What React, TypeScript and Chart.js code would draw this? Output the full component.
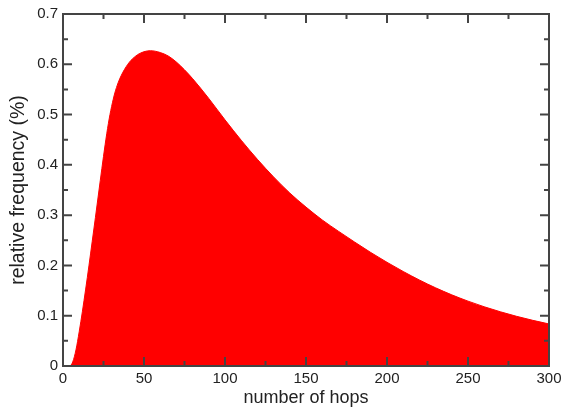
import React, { useEffect, useRef } from "react";
import { Chart, registerables } from "chart.js";

Chart.register(...registerables);

const hops = [0, 4, 6, 8, 10, 12, 14, 16, 18, 20, 22, 24, 26, 28, 30, 32, 34, 36, 38, 40, 42, 44, 46, 48, 50, 52, 54, 60, 65, 70, 75, 80, 90, 100, 110, 120, 130, 140, 150, 160, 170, 180, 190, 200, 210, 220, 230, 240, 250, 260, 270, 280, 290, 300];
const freq = [0, 0, 0.008, 0.032, 0.068, 0.109, 0.153, 0.199, 0.247, 0.295, 0.344, 0.393, 0.44, 0.482, 0.516, 0.543, 0.563, 0.578, 0.59, 0.6, 0.608, 0.614, 0.619, 0.6225, 0.625, 0.6265, 0.627, 0.6234, 0.6164, 0.6044, 0.589, 0.5715, 0.532, 0.4895, 0.449, 0.411, 0.376, 0.344, 0.316, 0.2905, 0.268, 0.2465, 0.2257, 0.2062, 0.188, 0.171, 0.1555, 0.1415, 0.129, 0.1178, 0.1078, 0.0988, 0.0908, 0.0836];

const xMajor = [0, 50, 100, 150, 200, 250, 300];
const xMinor = [25, 75, 125, 175, 225, 275];
const yMajor = [0, 0.1, 0.2, 0.3, 0.4, 0.5, 0.6, 0.7];
const yMinor = [0.05, 0.15, 0.25, 0.35, 0.45, 0.55, 0.65];

const frameColor = "#444444";

const framePlugin = {
  id: "frameTicks",
  afterDraw(chart: any) {
    const { ctx, chartArea } = chart;
    const { left, right, top, bottom } = chartArea;
    const xs = chart.scales.x;
    const ys = chart.scales.y;
    ctx.save();
    ctx.strokeStyle = frameColor;
    ctx.lineWidth = 2;
    ctx.beginPath();
    const tickX = (vals: number[], len: number) => {
      vals.forEach((v) => {
        const px = xs.getPixelForValue(v);
        ctx.moveTo(px, bottom);
        ctx.lineTo(px, bottom - len);
        ctx.moveTo(px, top);
        ctx.lineTo(px, top + len);
      });
    };
    const tickY = (vals: number[], len: number) => {
      vals.forEach((v) => {
        const py = ys.getPixelForValue(v);
        ctx.moveTo(left, py);
        ctx.lineTo(left + len, py);
        ctx.moveTo(right, py);
        ctx.lineTo(right - len, py);
      });
    };
    tickX(xMajor, 9);
    tickX(xMinor, 5);
    tickY(yMajor, 9);
    tickY(yMinor, 5);
    ctx.stroke();
    ctx.strokeRect(left, top, right - left, bottom - top);
    ctx.restore();
  },
};

export default function App() {
  const ref = useRef<HTMLCanvasElement | null>(null);
  useEffect(() => {
    if (!ref.current) return;
    const chart = new Chart(ref.current, {
      type: "line",
      data: {
        datasets: [
          {
            data: hops.map((h, i) => ({ x: h, y: freq[i] })),
            fill: "origin",
            backgroundColor: "#ff0000",
            borderColor: "#ff0000",
            borderWidth: 1,
            pointRadius: 0,
            cubicInterpolationMode: "monotone",
          },
        ],
      },
      options: {
        responsive: false,
        animation: false,
        devicePixelRatio: 1,
        layout: { padding: { left: 0, top: 13, right: 17, bottom: 0 } },
        plugins: { legend: { display: false }, tooltip: { enabled: false } },
        scales: {
          x: {
            type: "linear",
            min: 0,
            max: 300,
            grid: { display: false, drawTicks: false },
            border: { display: false },
            ticks: {
              stepSize: 50,
              padding: 4,
              color: "#222",
              font: { family: "'Liberation Sans', Arial, sans-serif", size: 15 },
              maxRotation: 0,
            },
            title: {
              display: true,
              text: "number of hops",
              color: "#222",
              font: { family: "'Liberation Sans', Arial, sans-serif", size: 18 },
              padding: { top: 0, bottom: 5 },
            },
            afterFit(scale: any) {
              scale.height = 48;
            },
          },
          y: {
            min: 0,
            max: 0.7,
            grid: { display: false, drawTicks: false },
            border: { display: false },
            ticks: {
              stepSize: 0.1,
              padding: 5,
              color: "#222",
              font: { family: "'Liberation Sans', Arial, sans-serif", size: 15 },
            },
            title: {
              display: true,
              text: "relative frequency (%)",
              color: "#222",
              font: { family: "'Liberation Sans', Arial, sans-serif", size: 19.5 },
              padding: { top: 7, bottom: 0 },
            },
            afterFit(scale: any) {
              scale.width = 63;
            },
          },
        },
      },
      plugins: [framePlugin],
    });
    return () => chart.destroy();
  }, []);
  return (
    <canvas
      ref={ref}
      width={566}
      height={414}
      style={{ position: "absolute", left: 0, top: 0, width: 566, height: 414 }}
    />
  );
}
